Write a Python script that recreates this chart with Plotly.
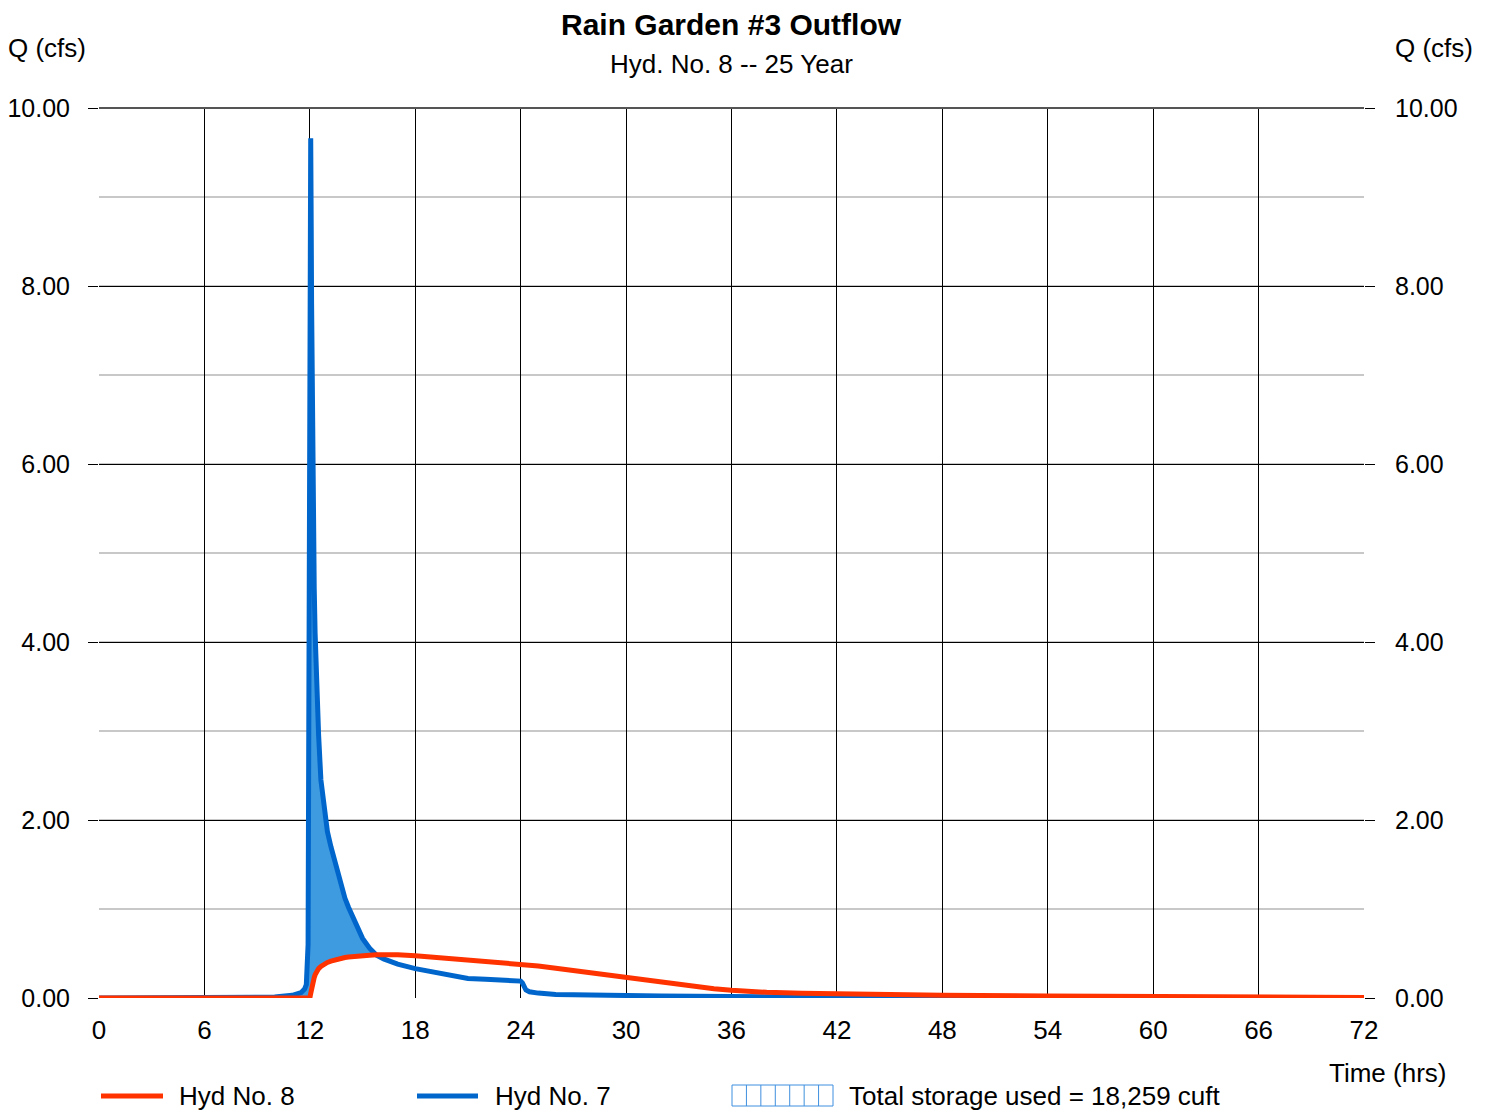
import numpy as np
import plotly.graph_objects as go

# ---- data ----
time_hrs = [0, 6, 9, 10, 11, 11.5, 11.7, 11.8, 11.9, 12.0, 12.05, 12.08, 12.1, 12.15, 12.2, 12.25, 12.3, 12.4, 12.5,
            12.63, 12.8, 13.0, 13.2, 13.43, 13.7, 14.0, 14.2, 14.5, 15.0, 15.4, 15.8, 16.2, 17, 18, 19, 20, 21, 22, 23,
            24, 24.1, 24.2, 24.3, 24.5, 25, 26, 28, 30, 32, 34, 35, 36, 37, 38, 40, 42, 44, 48, 54, 60, 66, 72]
hyd7_inflow = [0, 0, 0.003, 0.01, 0.03, 0.06, 0.1, 0.15, 0.6, 7.0, 9.66, 8.6, 7.8, 6.3, 5.3, 4.6, 4.1, 3.4, 2.95,
               2.45, 2.12, 1.87, 1.7, 1.52, 1.34, 1.12, 1.02, 0.88, 0.67, 0.56, 0.48, 0.44, 0.38, 0.33, 0.29, 0.25, 0.22, 0.21, 0.20,
               0.19, 0.17, 0.12, 0.09, 0.07, 0.055, 0.04, 0.03, 0.025, 0.022, 0.02, 0.018, 0.015, 0.013, 0.012, 0.01, 0.008, 0.006, 0.005, 0.003, 0.002, 0.001, 0]
hyd8_outflow = [0, 0, 0, 0, 0, 0, 0, 0, 0, 0, 0.05, 0.09, 0.12, 0.16, 0.2, 0.23, 0.26, 0.3, 0.33,
                0.355, 0.38, 0.4, 0.415, 0.43, 0.445, 0.455, 0.46, 0.468, 0.475, 0.48, 0.485, 0.487, 0.485, 0.475, 0.46, 0.445, 0.43, 0.41, 0.395,
                0.38, 0.379, 0.378, 0.377, 0.374, 0.36, 0.335, 0.285, 0.225, 0.172, 0.127, 0.105, 0.088, 0.074, 0.064, 0.053, 0.046, 0.041, 0.032, 0.022, 0.013, 0.008, 0.005]
x_ticks = [0, 6, 12, 18, 24, 30, 36, 42, 48, 54, 60, 66, 72]
y_ticks = [0, 2, 4, 6, 8, 10]
storage_text = "Total storage used = 18,259 cuft"

RED = "#FF3300"
BLUE = "#0066CC"
FILLBLUE = "#3F9BE0"

fill_top = np.maximum(np.array(hyd7_inflow), np.array(hyd8_outflow))

fig = go.Figure()
fig.add_trace(go.Scatter(x=time_hrs, y=hyd8_outflow, mode="lines", line=dict(width=0),
                         showlegend=False, hoverinfo="skip"))
fig.add_trace(go.Scatter(x=time_hrs, y=fill_top, mode="lines", line=dict(width=0),
                         fill="tonexty", fillcolor=FILLBLUE, showlegend=False, hoverinfo="skip"))
fig.add_trace(go.Scatter(x=time_hrs, y=hyd7_inflow, mode="lines", name="Hyd No. 7",
                         line=dict(color=BLUE, width=5), showlegend=False))
fig.add_trace(go.Scatter(x=time_hrs, y=hyd8_outflow, mode="lines", name="Hyd No. 8",
                         line=dict(color=RED, width=5), showlegend=False))
fig.add_trace(go.Scatter(x=time_hrs, y=hyd8_outflow, mode="lines", yaxis="y2",
                         line=dict(width=0), opacity=0, showlegend=False, hoverinfo="skip"))

FONT = "Liberation Sans, Arial, sans-serif"
OFF = 8  # page body margin
PL, PR, PT, PB = 99, 1364, 108, 998  # target plot-area pixels in the screenshot
W, H = 1493 - OFF, 1110 - OFF
L, T = PL - OFF, PT - OFF
R = OFF + W - PR
B = OFF + H - PB
pw, ph = PR - PL, PB - PT

def px(xp):
    return (xp - PL) / pw

def py(yp):
    return (PB - yp) / ph

FS = 26
TFS = 25

fig.update_layout(
    width=W, height=H,
    margin=dict(l=L, r=R, t=T, b=B, autoexpand=False),
    paper_bgcolor="white", plot_bgcolor="white",
    font=dict(family=FONT, size=FS, color="black"),
    showlegend=False,
    xaxis=dict(range=[0, 72], tickvals=x_ticks, ticktext=[str(v) for v in x_ticks],
               showgrid=True, gridcolor="#000000", gridwidth=1, zeroline=False,
               ticks="", ticklabelstandoff=14, showline=False, automargin=False,
               tickfont=dict(size=FS)),
    yaxis=dict(range=[0, 10], tickvals=y_ticks, tickformat=".2f",
               showgrid=True, gridcolor="#000000", gridwidth=1, zeroline=False,
               ticks="outside", ticklen=10, tickcolor="#000000", tickwidth=1,
               ticklabelstandoff=13, automargin=False,
               minor=dict(dtick=1, tick0=0, showgrid=True, gridcolor="#C8C8C8", gridwidth=2, ticks=""),
               tickfont=dict(size=TFS)),
    yaxis2=dict(range=[0, 10], tickvals=y_ticks, tickformat=".2f", overlaying="y", side="right",
                showgrid=False, zeroline=False, ticks="outside", ticklen=10, tickcolor="#000000",
                ticklabelstandoff=15, automargin=False, tickfont=dict(size=TFS)),
)

fig.add_shape(type="line", xref="paper", yref="paper", x0=0, x1=1, y0=1, y1=1,
              line=dict(color="#555555", width=2))

ann = [
    dict(text="<b>Rain Garden #3 Outflow</b>", x=px(731.5), y=py(25), font=dict(size=30)),
    dict(text="Hyd. No. 8 -- 25 Year", x=px(731.5), y=py(64), font=dict(size=FS)),
    dict(text="Q (cfs)", x=px(47), y=py(48), font=dict(size=FS)),
    dict(text="Q (cfs)", x=px(1434), y=py(48), font=dict(size=FS)),
    dict(text="Time (hrs)", x=px(1388), y=py(1073), font=dict(size=FS)),
]
for a in ann:
    fig.add_annotation(xref="paper", yref="paper", showarrow=False, xanchor="center", yanchor="middle",
                       borderpad=0, **a)

# legend (manual)
ly = py(1096)
fig.add_shape(type="line", xref="paper", yref="paper", x0=px(101), x1=px(163), y0=ly, y1=ly,
              line=dict(color=RED, width=5))
fig.add_annotation(text="Hyd No. 8", xref="paper", yref="paper", x=px(177), y=ly, showarrow=False,
                   xanchor="left", yanchor="middle", font=dict(size=FS))
fig.add_shape(type="line", xref="paper", yref="paper", x0=px(417), x1=px(478), y0=ly, y1=ly,
              line=dict(color=BLUE, width=5))
fig.add_annotation(text="Hyd No. 7", xref="paper", yref="paper", x=px(493), y=ly, showarrow=False,
                   xanchor="left", yanchor="middle", font=dict(size=FS))
bx0, bx1, by0, by1 = 732, 833, 1085, 1106
fig.add_shape(type="rect", xref="paper", yref="paper", x0=px(bx0), x1=px(bx1), y0=py(by1), y1=py(by0),
              line=dict(color="#3F8FDF", width=1), fillcolor="white")
for i in range(1, 7):
    xx = bx0 + (bx1 - bx0) * i / 7
    fig.add_shape(type="line", xref="paper", yref="paper", x0=px(xx), x1=px(xx), y0=py(by1), y1=py(by0),
                  line=dict(color="#3F8FDF", width=1))
fig.add_annotation(text=storage_text, xref="paper", yref="paper", x=px(847), y=ly, showarrow=False,
                   xanchor="left", yanchor="middle", font=dict(size=FS))

fig.write_html("out.html")
